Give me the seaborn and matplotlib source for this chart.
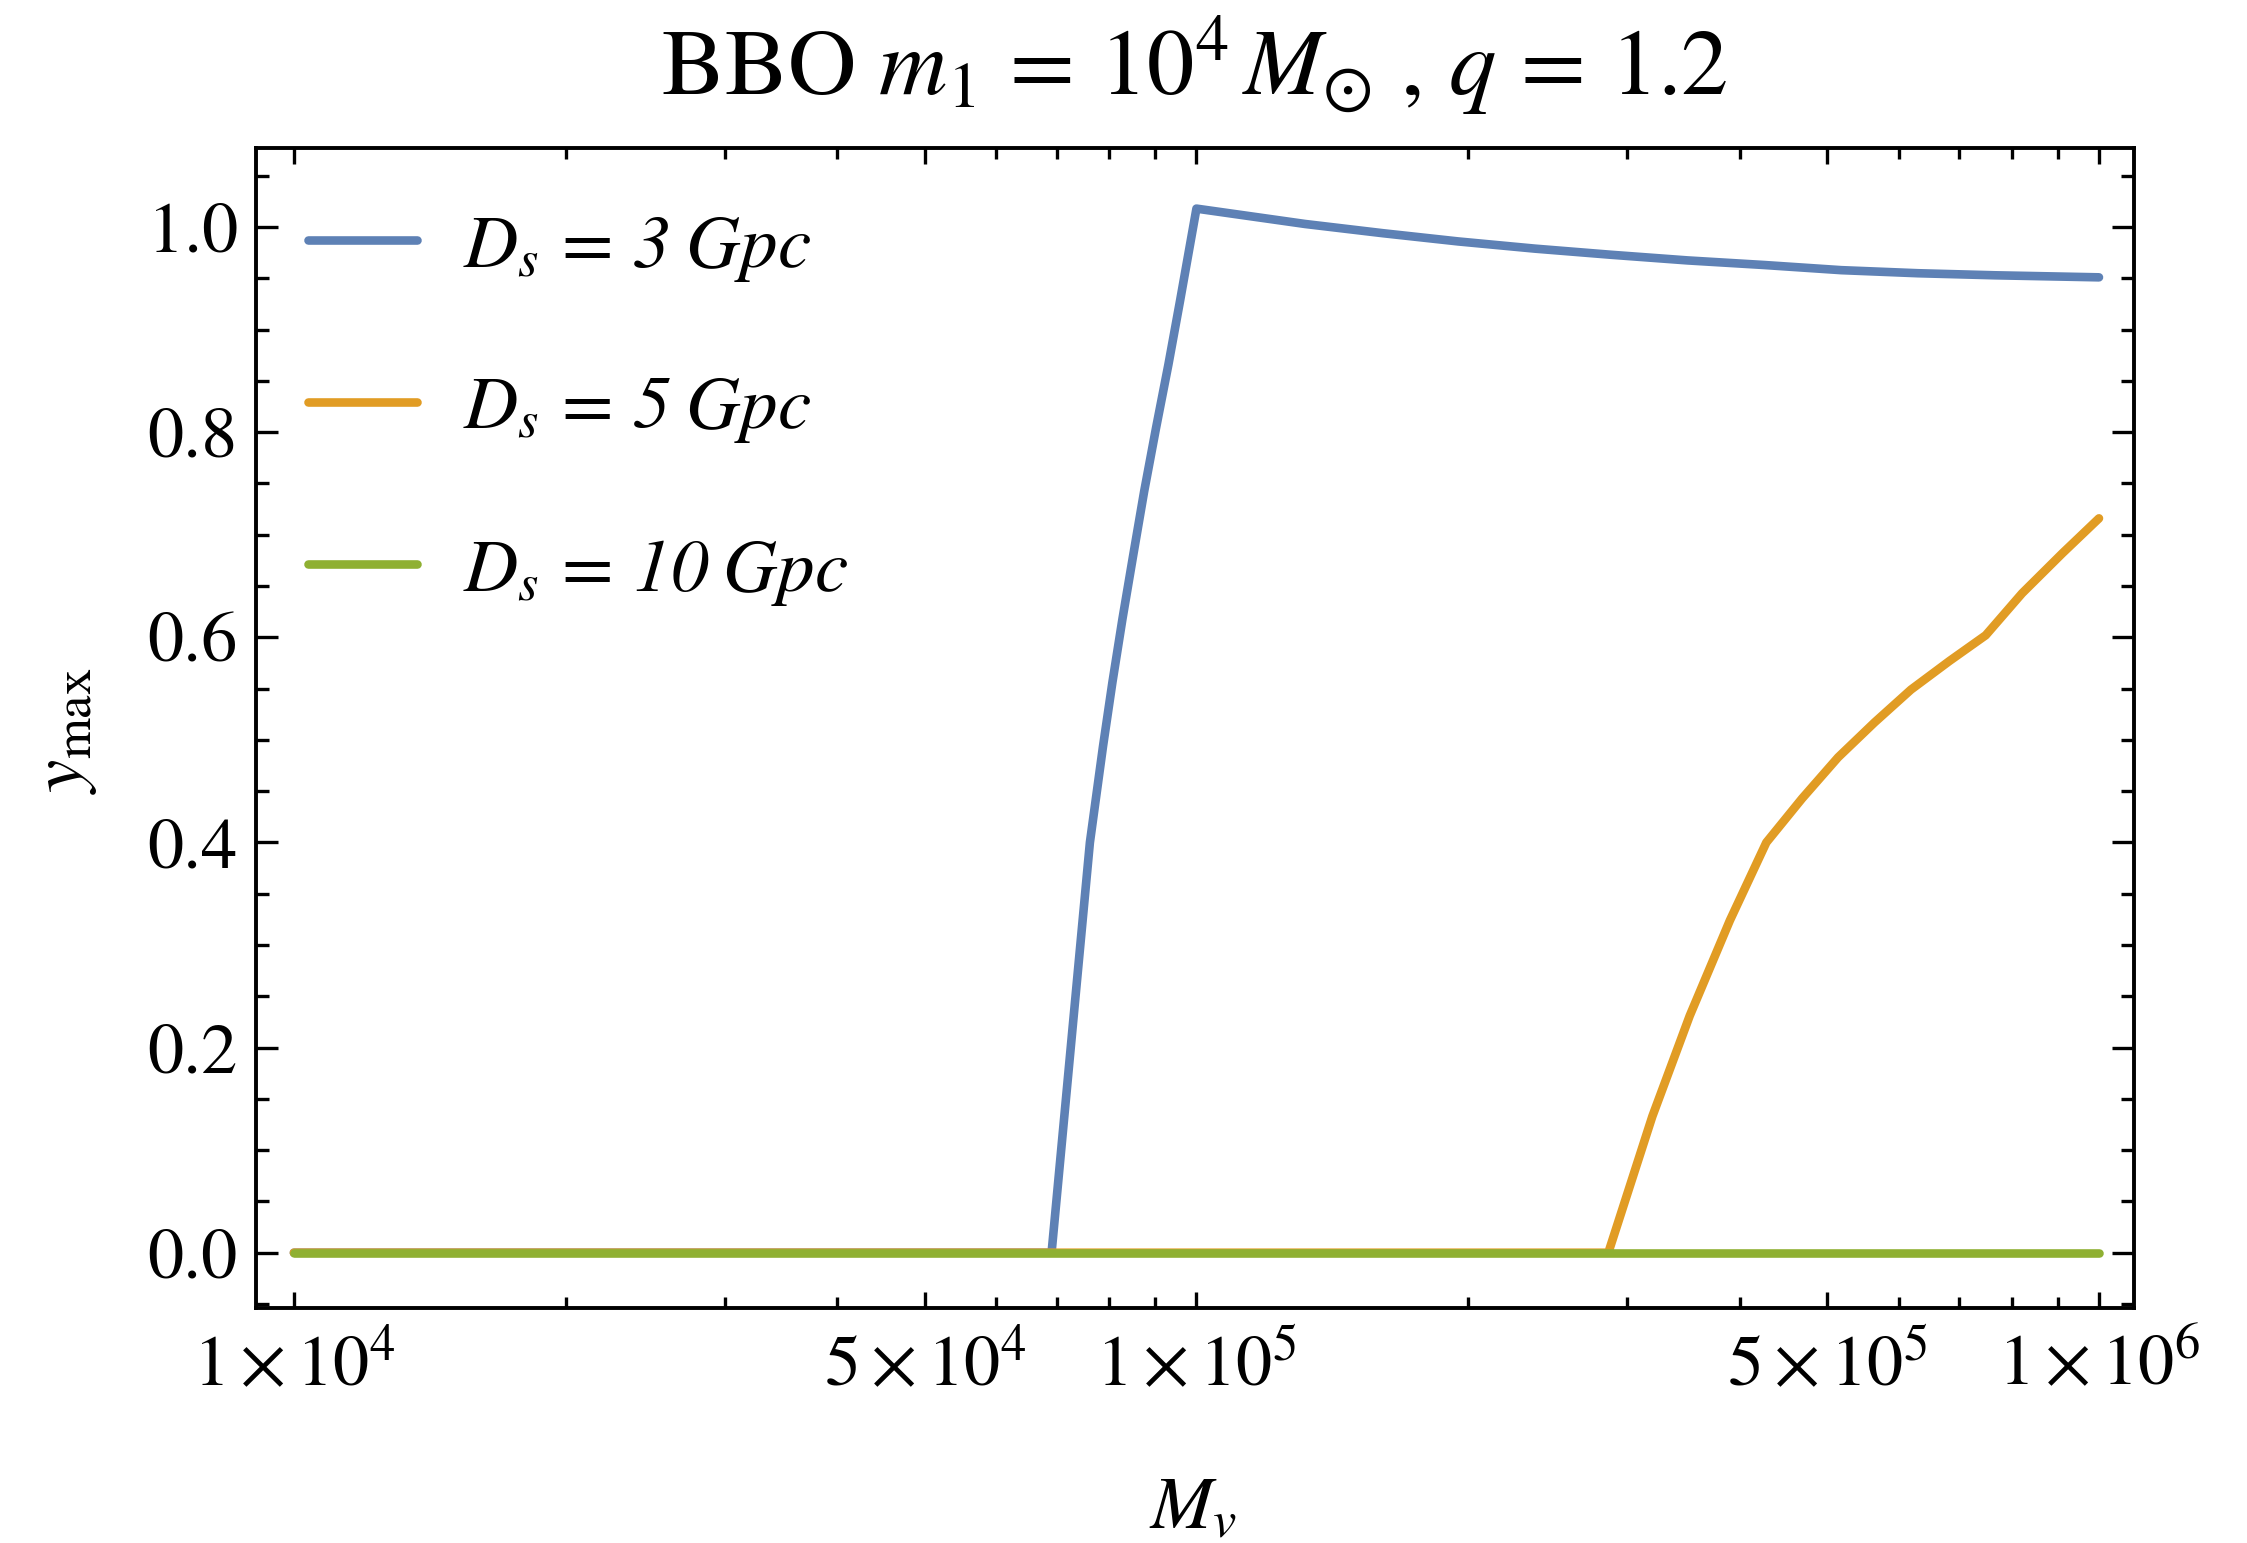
import numpy as np
import pandas as pd
import matplotlib
matplotlib.use("Agg")
import matplotlib.pyplot as plt
import seaborn as sns
from matplotlib.ticker import FixedLocator, FixedFormatter, MultipleLocator, FormatStrFormatter

# ---- data ----
x_blue = [1e4, 6.91e4, 7.62e4, 7.88e4, 8.07e4, 8.28e4, 8.51e4, 8.75e4, 9.02e4, 9.31e4,
          9.59e4, 1.0e5, 1.32e5, 1.61e5, 1.95e5, 2.37e5, 2.88e5, 3.5e5, 4.26e5,
          5.18e5, 6.3e5, 7.66e5, 1.0e6]
y_blue = [0.0, 0.0, 0.40, 0.494, 0.556, 0.618, 0.680, 0.742, 0.804, 0.866,
          0.928, 1.018, 1.003, 0.994, 0.986, 0.979, 0.973, 0.9675, 0.963,
          0.958, 0.955, 0.953, 0.951]

x_orange = [1e4, 2.86e5, 3.2e5, 3.52e5, 3.9e5, 4.28e5, 4.69e5, 5.14e5, 5.64e5,
            6.19e5, 6.83e5, 7.49e5, 8.22e5, 9.11e5, 1.0e6]
y_orange = [0.0, 0.0, 0.133, 0.231, 0.324, 0.40, 0.443, 0.483, 0.517,
            0.549, 0.577, 0.602, 0.643, 0.682, 0.716]

x_green = [1e4, 1e6]
y_green = [0.0, 0.0]

series_labels = [r"$D_s\,=\,$3$\;$Gpc", r"$D_s\,=\,$5$\;$Gpc", r"$D_s\,=\,$10$\;$Gpc"]
colors = ["#5E81B5", "#E19C24", "#8FB032"]

xtick_major = [1e4, 5e4, 1e5, 5e5, 1e6]
xtick_labels = [r"$1\times10^{4}$", r"$5\times10^{4}$", r"$1\times10^{5}$",
                r"$5\times10^{5}$", r"$1\times10^{6}$"]
xtick_minor = [2e4, 3e4, 4e4, 6e4, 7e4, 8e4, 9e4, 2e5, 3e5, 4e5, 6e5, 7e5, 8e5, 9e5]

# ---- style ----
sns.set_theme(style="ticks")
plt.rcParams['font.family'] = ['STIXGeneral', 'DejaVu Serif']
plt.rcParams['mathtext.fontset'] = 'stix'
for k in ['text.color', 'axes.labelcolor', 'xtick.color', 'ytick.color',
          'xtick.labelcolor', 'ytick.labelcolor', 'axes.edgecolor']:
    plt.rcParams[k] = 'black'

W, H, DPI = 2247, 1543, 200
fig = plt.figure(figsize=(W / DPI, H / DPI), dpi=DPI)
ax_l, ax_r, ax_t, ax_b = 256, 2134, 148, 1308
ax = fig.add_axes([ax_l / W, 1 - ax_b / H, (ax_r - ax_l) / W, (ax_b - ax_t) / H])
ax.set_xscale('log')

frames = []
for xs, ys, lab in [(x_blue, y_blue, series_labels[0]),
                    (x_orange, y_orange, series_labels[1]),
                    (x_green, y_green, series_labels[2])]:
    frames.append(pd.DataFrame({"M": xs, "y": ys, "series": lab}))
df = pd.concat(frames, ignore_index=True)

sns.lineplot(data=df, x="M", y="y", hue="series", hue_order=series_labels,
             palette=colors, estimator=None, sort=False, linewidth=3.1,
             ax=ax, legend=False)

ax.set_xlim(10 ** 3.958, 10 ** 6.0388)
ax.set_ylim(-0.0539, 1.0771)

ax.xaxis.set_major_locator(FixedLocator(xtick_major))
ax.xaxis.set_major_formatter(FixedFormatter(xtick_labels))
ax.xaxis.set_minor_locator(FixedLocator(xtick_minor))
ax.xaxis.set_minor_formatter(FixedFormatter([""] * len(xtick_minor)))
ax.yaxis.set_major_locator(MultipleLocator(0.2))
ax.yaxis.set_major_formatter(FormatStrFormatter('%.1f'))
ax.yaxis.set_minor_locator(MultipleLocator(0.05))

for s in ax.spines.values():
    s.set_linewidth(1.4)
    s.set_color('black')

ax.tick_params(which='both', direction='in', top=True, right=True,
               width=1.2, color='black', labelsize=26, labelcolor='black')
ax.tick_params(axis='x', which='major', length=5.8, pad=9)
ax.tick_params(axis='x', which='minor', length=4.0)
ax.tick_params(axis='y', which='major', length=8.0, pad=6.5)
ax.tick_params(axis='y', which='minor', length=4.8)
ax.set_xlabel("")
ax.set_ylabel("")

# legend
handles = ax.lines[:3]
leg = ax.legend(handles, series_labels, loc='upper left',
                bbox_to_anchor=(0.0277, 0.943), frameon=False,
                prop={'family': 'STIXGeneral', 'style': 'italic', 'size': 27},
                handlelength=1.45, handletextpad=0.62, labelspacing=1.23,
                borderpad=0, borderaxespad=0)
for t in leg.get_texts():
    t.set_color('black')

# title and axis labels
fig.text(1194 / W, 1 - 95 / H,
         r"BBO $m_1 \,=\, 10^4\,M_{\odot}$ , $q \,=\, 1.2$",
         ha='center', va='baseline', fontsize=34, color='black')
fig.text(1193 / W, 1 - 1528 / H, r"$M_v$", ha='center', va='baseline',
         fontsize=27, color='black')
fig.text(65 / W, 1 - 731 / H, r"$y_{\rm max}$", ha='center', va='center',
         rotation=90, fontsize=27, color='black')

fig.savefig("out.png", dpi=DPI)
